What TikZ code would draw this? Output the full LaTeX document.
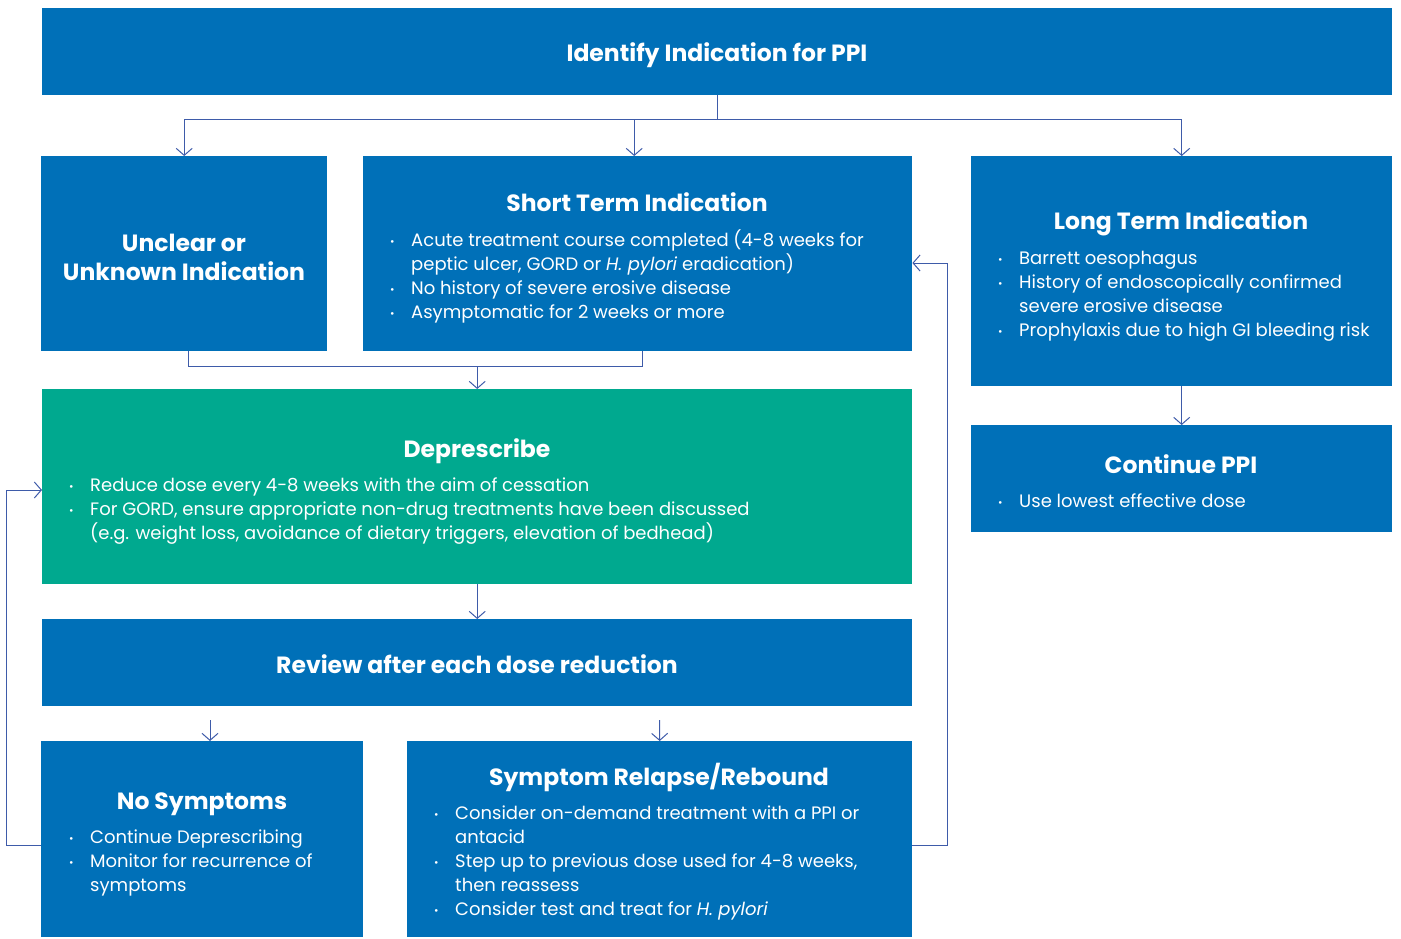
\documentclass[tikz,border=0pt]{standalone}
\usepackage{fontspec}
\setmainfont{Poppins}
\usetikzlibrary{arrows.meta,calc}
\definecolor{boxblue}{HTML}{0070B8}
\definecolor{boxgreen}{HTML}{00A98F}
\definecolor{linkblue}{HTML}{3E5BA9}
% bullet and continuation indents for the lists
\newcommand{\bitem}{\makebox[21pt][l]{\raisebox{0.1ex}{\scalebox{0.6}{\textbullet}}}}
\newcommand{\bcont}{\hspace*{21pt}}
\begin{document}
\begin{tikzpicture}[x=1pt,y=-1pt,
  box/.style={fill=boxblue,draw=none,inner sep=0pt,anchor=north west},
  greenbox/.style={box,fill=boxgreen},
  title/.style={text=white,inner sep=0pt,anchor=base,align=center,
    font=\fontsize{23.5}{29}\selectfont\bfseries},
  blist/.style={text=white,inner sep=0pt,anchor=base west,align=left,
    font=\fontsize{18}{24}\selectfont},
  link/.style={draw=linkblue,line width=1pt},
  arr/.style={-{Straight Barb[length=7pt,width=16pt,line width=1pt]}}]
\useasboundingbox (0,0) rectangle (1401,938);

% boxes
\node[box,minimum width=1350pt,minimum height=87pt] (top) at (42,8) {};
\node[box,minimum width=286pt,minimum height=195pt] (unclear) at (41,156) {};
\node[box,minimum width=549pt,minimum height=195pt] (short) at (363,156) {};
\node[box,minimum width=421pt,minimum height=230pt] (long) at (971,156) {};
\node[box,minimum width=421pt,minimum height=107pt] (cont) at (971,425) {};
\node[greenbox,minimum width=870pt,minimum height=195pt] (depr) at (42,389) {};
\node[box,minimum width=870pt,minimum height=87pt] (review) at (42,619) {};
\node[box,minimum width=322pt,minimum height=196pt] (nosym) at (41,741) {};
\node[box,minimum width=505pt,minimum height=196pt] (relapse) at (407,741) {};

% titles
\node[title] (topT) at (717,61) {Identify Indication for PPI};
\node[title,anchor=center] (unclearT) at (184,257) {Unclear or\\Unknown Indication};
\node[title] (shortT) at (637,211) {Short Term Indication};
\node[title] (longT) at (1181,229) {Long Term Indication};
\node[title] (contT) at (1181,473) {Continue PPI};
\node[title] (deprT) at (477,457) {Deprescribe};
\node[title] (reviewT) at (477,673) {Review after each dose reduction};
\node[title] (nosymT) at (202,809) {No Symptoms};
\node[title] (relapseT) at (659,785) {Symptom Relapse/Rebound};

% bullet lists (each placed by the baseline of its last line)
\node[blist] (shortL) at (390,318) {%
  \bitem Acute treatment course completed (4-8 weeks for\\
  \bcont peptic ulcer, GORD or \textit{H. pylori} eradication)\\
  \bitem No history of severe erosive disease\\
  \bitem Asymptomatic for 2 weeks or more};
\node[blist] (longL) at (998,336) {%
  \bitem Barrett oesophagus\\
  \bitem History of endoscopically confirmed\\
  \bcont severe erosive disease\\
  \bitem Prophylaxis due to high GI bleeding risk};
\node[blist] (contL) at (998,507) {\bitem Use lowest effective dose};
\node[blist] (deprL) at (69,539) {%
  \bitem Reduce dose every 4-8 weeks with the aim of cessation\\
  \bitem For GORD, ensure appropriate non-drug treatments have been discussed\\
  \bcont (e.g. weight loss, avoidance of dietary triggers, elevation of bedhead)};
\node[blist] (nosymL) at (69,891) {%
  \bitem Continue Deprescribing\\
  \bitem Monitor for recurrence of\\
  \bcont symptoms};
\node[blist] (relapseL) at (434,915) {%
  \bitem Consider on-demand treatment with a PPI or\\
  \bcont antacid\\
  \bitem Step up to previous dose used for 4-8 weeks,\\
  \bcont then reassess\\
  \bitem Consider test and treat for \textit{H. pylori}};

% connectors from the top box
\draw[link] (top.south) -- (top.south |- 0,119) coordinate (bus);
\coordinate (sn) at ($(short.north)+(-3.5,0)$);
\draw[link] (unclear.north |- bus) -- (long.north |- bus);
\draw[link,arr] (unclear.north |- bus) -- (unclear.north);
\draw[link,arr] (sn |- bus) -- (sn);
\draw[link,arr] (long.north |- bus) -- (long.north);

% joining unclear and short term into deprescribe
\draw[link] ($(unclear.south)+(4,0)$) -- ++(0,15) coordinate (join)
  -| ($(short.south)+(4.5,0)$);
\draw[link,arr] (depr.north |- join) -- (depr.north);
\draw[link,arr] (depr.south) -- (review.north);
\draw[link,arr] (long.south) -- (cont.north);

% outcomes of the review
\coordinate (ra) at (210,720);
\coordinate (rb) at (659.5,720);
\draw[link,arr] (ra) -- (ra |- nosym.north);
\draw[link,arr] (rb) -- (relapse.north);

% feedback loops
\draw[link,arr] ($(nosym.south west)+(0,-92)$) -- ++(-35,0)
  |- ($(depr.north west)+(0,101)$);
\draw[link,arr] ($(relapse.south east)+(0,-92)$) -- ++(35,0)
  |- ($(short.north east)+(0,107)$);
\end{tikzpicture}
\end{document}
